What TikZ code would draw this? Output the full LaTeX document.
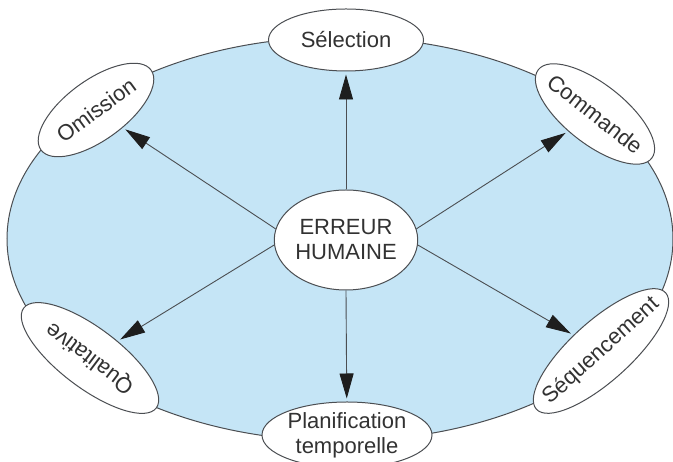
\documentclass[tikz,border=0pt]{standalone}
\usepackage{fontspec}
\setmainfont{Liberation Sans}
\usetikzlibrary{shapes.geometric,arrows.meta}

\definecolor{fond}{RGB}{197,229,246}
\definecolor{trait}{RGB}{75,78,82}
\definecolor{texte}{RGB}{50,50,50}
\definecolor{pointe}{RGB}{30,30,30}

\tikzset{
  bulle/.style={ellipse, draw=trait, line width=1pt, fill=white, inner sep=0pt,
    minimum height=60pt, text=texte, font=\fontsize{22}{25}\selectfont},
  fleche/.style={draw=trait, line width=0.9pt,
    -{Triangle[length=25pt,width=14pt,color=pointe]}, shorten >=3pt}
}

\begin{document}
\begin{tikzpicture}[x=1pt,y=1pt]
  \useasboundingbox[fill=white] (0,0) rectangle (673,462);

  % grand ellipse de fond
  \draw[trait, line width=1pt, fill=fond] (340,223) ellipse [x radius=333, y radius=202];

  % noeud central
  \node[bulle, minimum width=136pt, minimum height=100pt, align=center] (erreur) at (346,222) {ERREUR\\HUMAINE};

  % les six types d'erreur
  \node[bulle, minimum width=155pt, minimum height=62pt] (sel) at (346,422) {Sélection};
  \node[bulle, minimum width=136pt, rotate=36] (omi) at (96,352) {Omission};
  \node[bulle, inner xsep=-6pt, rotate=-38] (com) at (595,348) {Commande};
  \node[bulle, minimum width=166pt, rotate=143] (qual) at (90,104) {Qualitative};
  \node[bulle, inner xsep=-12.5pt, rotate=42] (seq) at (601,111) {Séquencement};
  \node[bulle, minimum width=170pt, minimum height=66pt, align=center] (plan) at (347,27) {Planification\\temporelle};

  % fleches
  \draw[fleche] (erreur.north) -- (sel);
  \draw[fleche] (erreur.south) -- (plan);
  \draw[fleche] (erreur.171) -- (omi);
  \draw[fleche] (erreur.184) -- (qual);
  \draw[fleche] (erreur.9) -- (com);
  \draw[fleche] (erreur.356) -- (seq);
\end{tikzpicture}
\end{document}
